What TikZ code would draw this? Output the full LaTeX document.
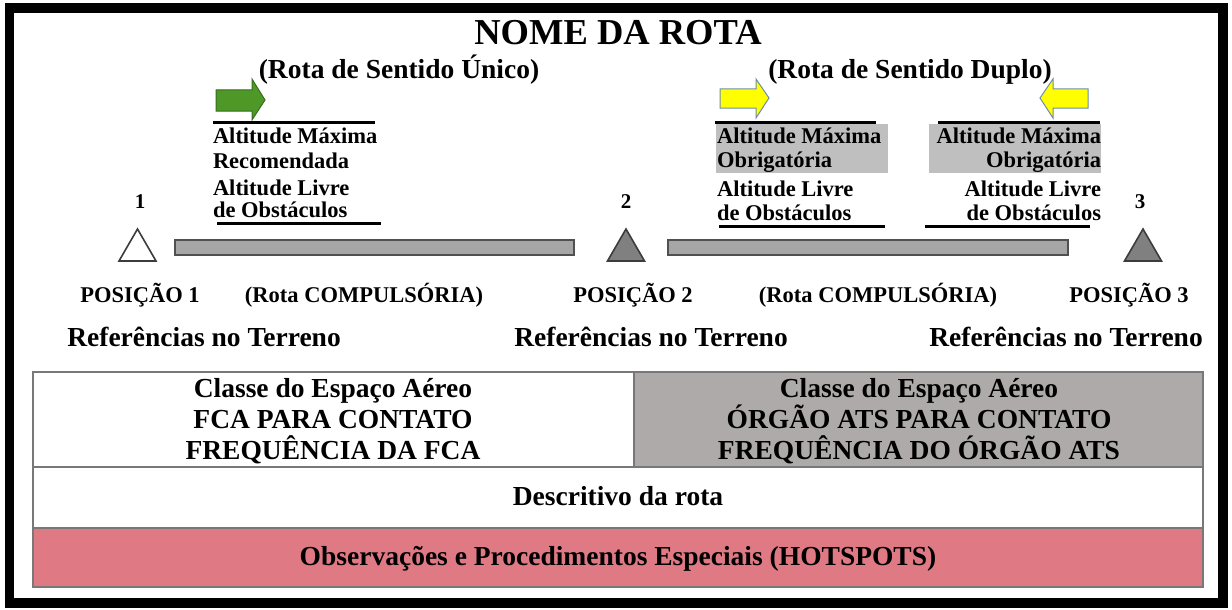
\documentclass[tikz,border=0pt]{standalone}
\usepackage{fontspec}
\setmainfont{Liberation Serif}
\definecolor{barfill}{RGB}{166,166,166}
\definecolor{barline}{RGB}{80,80,80}
\definecolor{trifill}{RGB}{128,128,128}
\definecolor{trline}{RGB}{60,60,60}
\definecolor{hlgray}{RGB}{191,191,191}
\definecolor{cellgray}{RGB}{174,170,170}
\definecolor{hotpink}{RGB}{223,121,132}
\definecolor{arrgreen}{RGB}{77,152,38}
\definecolor{arrgreenline}{RGB}{55,110,30}
\definecolor{arryel}{RGB}{255,255,0}
\definecolor{arryelline}{RGB}{110,140,170}
\definecolor{tabline}{RGB}{120,120,120}
\begin{document}
\begin{tikzpicture}[x=1pt,y=-1pt,
  txt/.style={inner sep=0pt, outer sep=0pt, font=\bfseries\fontsize{#1}{#1}\selectfont},
  rule/.style={line width=3pt, black},
  barbox/.style={fill=barfill, draw=barline, line width=1.6pt},
  tri/.style={draw=trline, line width=1.6pt, line join=miter},
  tabrule/.style={draw=tabline, line width=2pt}]
\useasboundingbox (0,0) rectangle (1232,610);
\fill[white] (0,0) rectangle (1232,610);
% outer frame
\draw[line width=9.5pt, black] (9.5,8) rectangle (1223,603);

% title
\node[txt=36.5, anchor=base] (title) at (618,45) {NOME DA ROTA};
\node[txt=27.5, anchor=base] (sub1) at (399,78) {(Rota de Sentido Único)};
\node[txt=27.5, anchor=base] (sub2) at (910,78) {(Rota de Sentido Duplo)};

% arrows
\draw[fill=arrgreen, draw=arrgreenline, line width=1pt]
  (216,90) -- (252,90) -- (252,79) -- (265,100) -- (252,120) -- (252,111) -- (216,111) -- cycle;
\draw[fill=arryel, draw=arryelline, line width=1pt]
  (720,89) -- (756,89) -- (756,79) -- (769,98) -- (756,118) -- (756,108) -- (720,108) -- cycle;
\draw[fill=arryel, draw=arryelline, line width=1pt]
  (1088,89) -- (1053,89) -- (1053,79) -- (1040,98) -- (1053,118) -- (1053,108) -- (1088,108) -- cycle;

% block 1
\draw[rule] (213,122) -- (375,122);
\node[txt=22.5, anchor=base west] (b1a) at (213,143) {Altitude Máxima};
\node[txt=22.5, anchor=base west] (b1b) at (213,168) {Recomendada};
\node[txt=22.5, anchor=base west] (b1c) at (213,195) {Altitude Livre};
\node[txt=22.5, anchor=base west] (b1d) at (213,217) {de Obstáculos};
\draw[rule] (217,223) -- (381,223);

% block 2
\fill[hlgray] (716,124) rectangle (888,173);
\draw[rule] (715,122) -- (876,122);
\node[txt=22.5, anchor=base west] (b2a) at (717,143) {Altitude Máxima};
\node[txt=22.5, anchor=base west] (b2b) at (717,167) {Obrigatória};
\node[txt=22.5, anchor=base west] (b2c) at (717,196) {Altitude Livre};
\node[txt=22.5, anchor=base west] (b2d) at (717,220) {de Obstáculos};
\draw[rule] (719,226) -- (885,226);

% block 3
\fill[hlgray] (929,124) rectangle (1101,173);
\draw[rule] (938,122) -- (1100,122);
\node[txt=22.5, anchor=base east] (b3a) at (1101,143) {Altitude Máxima};
\node[txt=22.5, anchor=base east] (b3b) at (1101,167) {Obrigatória};
\node[txt=22.5, anchor=base east] (b3c) at (1101,196) {Altitude Livre};
\node[txt=22.5, anchor=base east] (b3d) at (1101,220) {de Obstáculos};
\draw[rule] (925,226) -- (1090,226);

% position numbers
\node[txt=21, anchor=base] (n1) at (140,208) {1};
\node[txt=21, anchor=base] (n2) at (626,208) {2};
\node[txt=21, anchor=base] (n3) at (1140,208) {3};

% triangles and bars
\draw[tri, fill=white] (137.5,229) -- (156,261) -- (119,261) -- cycle;
\draw[tri, fill=trifill] (626,229) -- (644.5,261) -- (607.5,261) -- cycle;
\draw[tri, fill=trifill] (1143,229) -- (1161.5,261) -- (1124.5,261) -- cycle;
\draw[barbox] (175,240) rectangle (574,255);
\draw[barbox] (668,240) rectangle (1068,255);

% position labels
\node[txt=22.5, anchor=base] (p1) at (140,302) {POSIÇÃO 1};
\node[txt=22.5, anchor=base] (c1) at (364,302) {(Rota COMPULSÓRIA)};
\node[txt=22.5, anchor=base] (p2) at (633,302) {POSIÇÃO 2};
\node[txt=22.5, anchor=base] (c2) at (878,302) {(Rota COMPULSÓRIA)};
\node[txt=22.5, anchor=base] (p3) at (1129,302) {POSIÇÃO 3};

\node[txt=27.5, anchor=base] (r1) at (204,346) {Referências no Terreno};
\node[txt=27.5, anchor=base] (r2) at (651,346) {Referências no Terreno};
\node[txt=27.5, anchor=base] (r3) at (1066,346) {Referências no Terreno};

% table
\fill[cellgray] (634,372) rectangle (1203,467);
\fill[hotpink] (33,528) rectangle (1203,587);
\draw[tabrule] (33,372) rectangle (1203,587);
\draw[tabrule] (33,467) -- (1203,467);
\draw[tabrule] (33,528) -- (1203,528);
\draw[tabrule] (634,372) -- (634,467);

\node[txt=27.5, anchor=base] (t1a) at (333,397) {Classe do Espaço Aéreo};
\node[txt=27.5, anchor=base] (t1b) at (333,428) {FCA PARA CONTATO};
\node[txt=27.5, anchor=base] (t1c) at (333,459) {FREQUÊNCIA DA FCA};
\node[txt=27.5, anchor=base] (t2a) at (919,397) {Classe do Espaço Aéreo};
\node[txt=27.5, anchor=base] (t2b) at (919,428) {ÓRGÃO ATS PARA CONTATO};
\node[txt=27.5, anchor=base] (t2c) at (919,459) {FREQUÊNCIA DO ÓRGÃO ATS};
\node[txt=27.5, anchor=base] (t3) at (618,505) {Descritivo da rota};
\node[txt=27.5, anchor=base] (t4) at (618,565) {Observações e Procedimentos Especiais (HOTSPOTS)};
\end{tikzpicture}
\end{document}
